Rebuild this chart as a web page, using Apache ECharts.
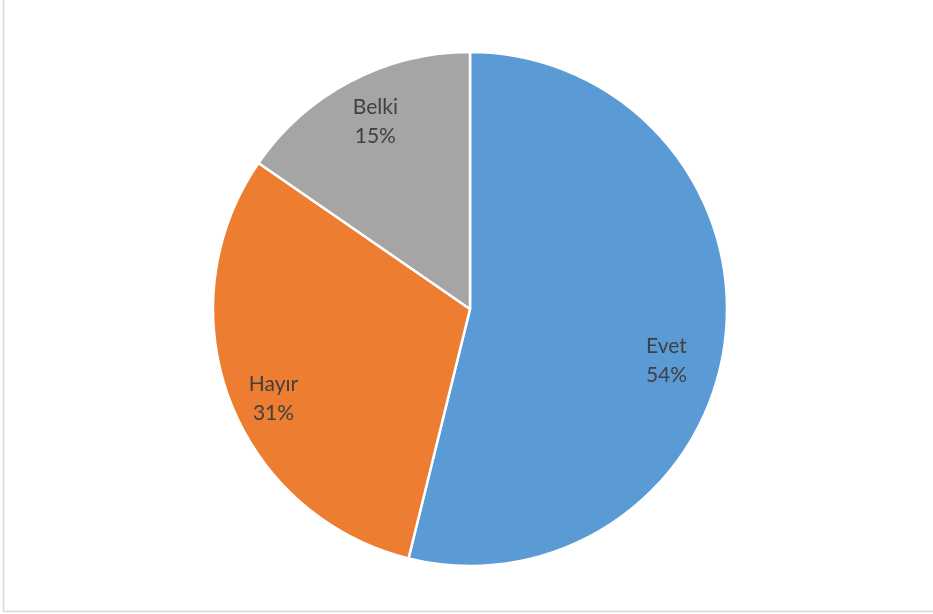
<!DOCTYPE html>
<html>
<head>
<meta charset="utf-8">
<script src="https://cdn.jsdelivr.net/npm/echarts@6/dist/echarts.min.js"></script>
<style>
html,body{margin:0;padding:0;background:#fff;}
#chart{width:933px;height:614px;}
</style>
</head>
<body>
<div id="chart"></div>
<script>
const categories = ['Evet', 'Hayır', 'Belki'];
const values = [7, 4, 2];
const colors = ['#5B9BD5', '#ED7D31', '#A5A5A5'];

const chart = echarts.init(document.getElementById('chart'));
const data = categories.map((c, i) => ({ name: c, value: values[i], itemStyle: { color: colors[i] } }));
// small label nudges to mimic the spreadsheet's best-fit label placement
const nudges = [[-10, 27], [-2, 16], [2, -3]];
const labelData = categories.map((c, i) => ({ name: c, value: values[i], label: { offset: nudges[i] } }));

chart.setOption({
  animation: false,
  backgroundColor: '#ffffff',
  graphic: [
    { type: 'line', shape: { x1: 3.5, y1: 0, x2: 3.5, y2: 611.5 }, style: { stroke: '#d9d9d9', lineWidth: 1.5 } },
    { type: 'line', shape: { x1: 3, y1: 611.5, x2: 933, y2: 611.5 }, style: { stroke: '#d9d9d9', lineWidth: 1.5 } }
  ],
  series: [
    {
      type: 'pie',
      center: [470, 309],
      radius: [0, 257],
      startAngle: 90,
      clockwise: true,
      data: data,
      itemStyle: { borderColor: '#ffffff', borderWidth: 2.5 },
      label: { show: false },
      labelLine: { show: false },
      silent: true
    },
    {
      type: 'pie',
      center: [470, 309],
      radius: [153, 257],
      startAngle: 90,
      clockwise: true,
      percentPrecision: 0,
      data: labelData,
      itemStyle: { color: 'rgba(0,0,0,0)' },
      label: {
        show: true,
        position: 'inside',
        formatter: '{b}\n{d}%',
        color: '#404040',
        fontFamily: 'Lato',
        fontSize: 21,
        lineHeight: 29
      },
      labelLine: { show: false },
      silent: true
    }
  ]
});
</script>
</body>
</html>
